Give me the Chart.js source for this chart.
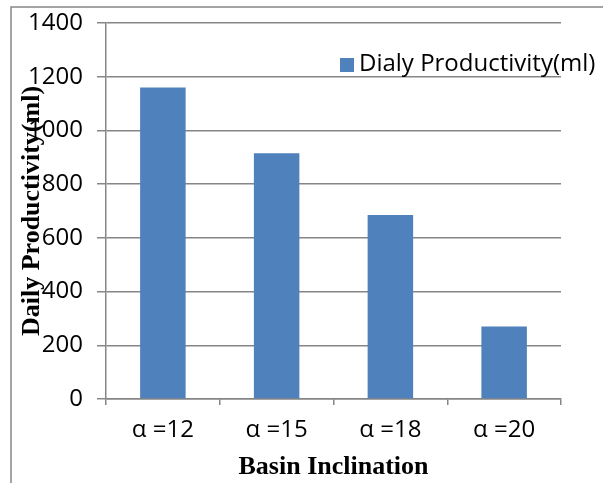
<!DOCTYPE html>
<html>
<head>
<meta charset="utf-8">
<script src="https://cdn.jsdelivr.net/npm/chart.js@4/dist/chart.umd.min.js"></script>
<style>
  html, body { margin: 0; padding: 0; background: #fff; }
  #wrap { width: 603px; height: 483px; position: relative; }
</style>
</head>
<body>
<div id="wrap"><canvas id="chart"></canvas></div>
<script>
const categories = ["α =12", "α =15", "α =18", "α =20"];
const productivity = [1160, 915, 685, 270];
const seriesName = "Dialy Productivity(ml)";
const yTitle = "Daily Productivity(ml)";
const xTitle = "Basin Inclination";

const gridColor = "#868686";
const barColor = "#4f81bd";
const sans = "'Open Sans', sans-serif";
const serif = "'Liberation Serif', 'Times New Roman', serif";

// Border, axis titles and the in-plot legend are drawn by hand.
const extras = {
  id: "extras",
  afterDraw(chart) {
    const { ctx, chartArea: a } = chart;
    ctx.save();
    ctx.strokeStyle = gridColor;
    ctx.lineWidth = 1.5;
    ctx.beginPath();
    ctx.moveTo(11, 483);
    ctx.lineTo(11, 7);
    ctx.lineTo(603, 7);
    ctx.stroke();

    ctx.fillStyle = "#000";
    ctx.font = "bold 26px " + serif;
    ctx.textAlign = "center";
    ctx.textBaseline = "middle";
    ctx.fillText(xTitle, (a.left + a.right) / 2, 467);

    ctx.translate(32, (a.top + a.bottom) / 2);
    ctx.rotate(-Math.PI / 2);
    ctx.fillText(yTitle, 0, 0);
    ctx.restore();

    const ds = chart.data.datasets[0];
    ctx.save();
    ctx.fillStyle = ds.backgroundColor;
    ctx.fillRect(340, 58, 14, 14);
    ctx.fillStyle = "#000";
    ctx.font = "24px " + sans;
    ctx.textAlign = "left";
    ctx.textBaseline = "middle";
    ctx.fillText(ds.label, 359, 64);
    ctx.restore();
  }
};

new Chart(document.getElementById("chart"), {
  type: "bar",
  data: {
    labels: categories,
    datasets: [{
      label: seriesName,
      data: productivity,
      backgroundColor: barColor,
      categoryPercentage: 0.8,
      barPercentage: 0.5,
    }],
  },
  options: {
    responsive: true,
    maintainAspectRatio: false,
    animation: false,
    layout: { padding: { top: 23, right: 42, left: 0, bottom: 0 } },
    plugins: {
      legend: { display: false },
      tooltip: { enabled: false },
    },
    scales: {
      x: {
        grid: { display: true, drawOnChartArea: false, offset: true, color: gridColor, lineWidth: 1.5, tickLength: 6 },
        border: { color: gridColor, width: 1.5 },
        ticks: { color: "#000", font: { size: 24, family: sans }, padding: 11 },
        afterFit: (s) => { s.height = 84; s.paddingLeft = 0; s.paddingRight = 0; },
      },
      y: {
        min: 0,
        max: 1400,
        ticks: { stepSize: 200, color: "#000", font: { size: 24, family: sans }, padding: 14, callback: (v) => String(v) },
        grid: { color: gridColor, lineWidth: 1.5, tickLength: 9 },
        border: { color: gridColor, width: 1.5 },
        afterFit: (s) => { s.width = 106; s.paddingTop = 0; s.paddingBottom = 0; },
      },
    },
  },
  plugins: [extras],
});
</script>
</body>
</html>
